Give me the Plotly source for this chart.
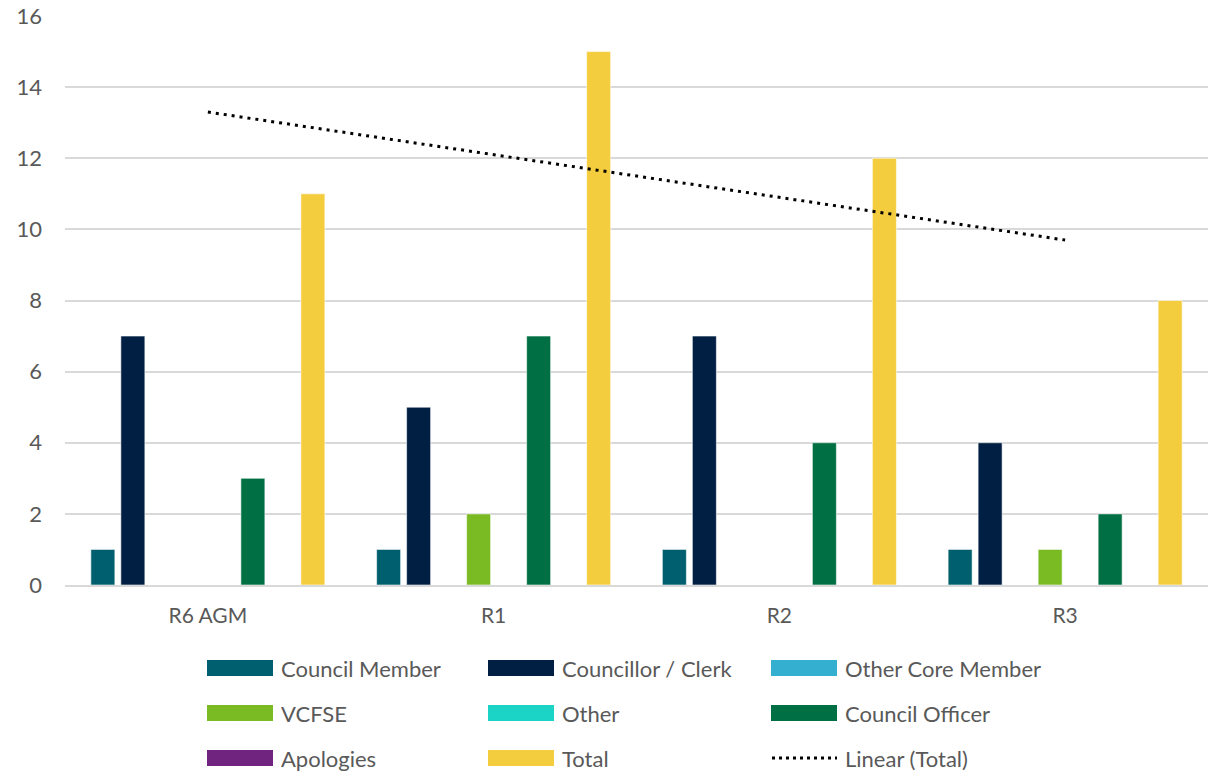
import plotly.graph_objects as go
import numpy as np

categories = ["R6 AGM", "R1", "R2", "R3"]
series_names = ["Council Member", "Councillor / Clerk", "Other Core Member", "VCFSE",
                "Other", "Council Officer", "Apologies", "Total"]
council_member = [1, 1, 1, 1]
councillor_clerk = [7, 5, 7, 4]
other_core_member = [0, 0, 0, 0]
vcfse = [0, 2, 0, 1]
other = [0, 0, 0, 0]
council_officer = [3, 7, 4, 2]
apologies = [0, 0, 0, 0]
total = [11, 15, 12, 8]
y_ticks = [0, 2, 4, 6, 8, 10, 12, 14, 16]

colors = ["#005f6e", "#001f43", "#35afd0", "#7aba23", "#1bd4c6", "#006f43", "#70237f", "#f4cd3e"]
values = [council_member, councillor_clerk, other_core_member, vcfse, other,
          council_officer, apologies, total]

FONT = "Lato"
TXT = "#595959"

fig = go.Figure()
for name, vals, col in zip(series_names, values, colors):
    fig.add_trace(go.Bar(name=name, x=categories, y=vals, marker_color=col,
                         marker_line=dict(color="rgba(255,255,255,0.7)", width=0.8),
                         showlegend=False))

# Linear trendline of Total (least squares fit)
xi = np.arange(len(total))
slope, intercept = np.polyfit(xi, total, 1)
trend = (slope * xi + intercept).tolist()
fig.add_trace(go.Scatter(name="Linear (Total)", x=categories, y=trend, mode="lines",
                         line=dict(color="black", width=3, dash="3px,5px"),
                         showlegend=False))

W, H = 1210, 772
L, R, T, B = 65, 2, 16, 187
pw, ph = W - L - R, H - T - B
def px(x):
    return (x - L) / pw
def py(y):
    return (H - B - y) / ph

col_x = [207, 488, 771]
row_y = [668, 713, 758]
legend_items = list(zip(series_names, colors)) + [("Linear (Total)", None)]
shapes = []
annotations = []
for i, (name, col) in enumerate(legend_items):
    cx = col_x[i % 3]
    cy = row_y[i // 3]
    if col is not None:
        shapes.append(dict(type="rect", xref="paper", yref="paper",
                           x0=px(cx), x1=px(cx + 66), y0=py(cy - 8), y1=py(cy + 8),
                           fillcolor=col, line=dict(width=0)))
    else:
        shapes.append(dict(type="line", xref="paper", yref="paper",
                           x0=px(cx + 1), x1=px(cx + 66), y0=py(cy), y1=py(cy),
                           line=dict(color="black", width=3, dash="3px,4px")))
    annotations.append(dict(text=name, xref="paper", yref="paper", x=px(cx + 72), y=py(cy),
                            xanchor="left", yanchor="middle", showarrow=False,
                            font=dict(family=FONT, size=22, color=TXT)))

fig.update_layout(
    width=W, height=H,
    margin=dict(l=L, r=R, t=T, b=B, pad=0),
    barmode="group", bargap=0.16, bargroupgap=0.2,
    plot_bgcolor="white", paper_bgcolor="white",
    font=dict(family=FONT, size=21, color=TXT),
    shapes=shapes, annotations=annotations,
    xaxis=dict(showgrid=False, showline=True, linecolor="#d9d9d9", linewidth=1.5,
               tickfont=dict(family=FONT, size=21, color=TXT), ticks="",
               ticklabelstandoff=11),
    yaxis=dict(range=[0, 16], tickvals=y_ticks, showgrid=True, gridcolor="#d9d9d9",
               gridwidth=1.5, zeroline=False, showline=False,
               tickfont=dict(family=FONT, size=22, color=TXT),
               ticklabelstandoff=22),
)

fig.write_html("out.html", config={"displayModeBar": False},
               post_script="document.body.style.margin='0px';document.body.style.overflow='hidden';")
